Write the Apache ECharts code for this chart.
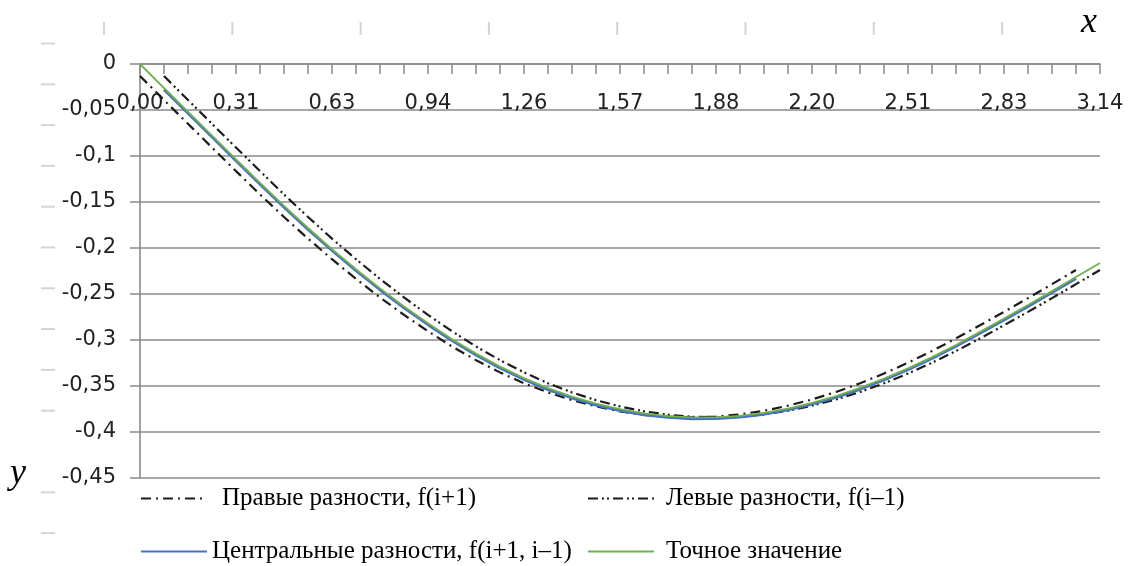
<!DOCTYPE html>
<html>
<head>
<meta charset="utf-8">
<title>Численное дифференцирование</title>
<script src="https://cdn.jsdelivr.net/npm/echarts@6/dist/echarts.min.js"></script>
<style>
  html, body { margin: 0; padding: 0; background: #ffffff; }
  #chart { width: 1131px; height: 566px; }
</style>
</head>
<body>
<div id="chart"></div>
<script>
// Grid nodes x_i = i*pi/40, i = 0..40 (labels shown with a decimal comma)
const xLabels = [
  "0,00","0,08","0,16","0,24","0,31","0,39","0,47","0,55","0,63","0,71",
  "0,79","0,86","0,94","1,02","1,10","1,18","1,26","1,34","1,41","1,49",
  "1,57","1,65","1,73","1,81","1,88","1,96","2,04","2,12","2,20","2,28",
  "2,36","2,43","2,51","2,59","2,67","2,75","2,83","2,91","2,98","3,06","3,14"
];

// Exact derivative at every node, i = 0..40
const exactValues = [
  0, -0.0261, -0.0521, -0.0779, -0.1036, -0.1292, -0.1543, -0.1783, -0.2012, -0.2231,
  -0.2439, -0.2635, -0.2819, -0.2991, -0.3148, -0.3289, -0.3415, -0.3524, -0.3616, -0.3692,
  -0.3752, -0.3798, -0.3827, -0.3842, -0.3840, -0.3824, -0.3792, -0.3745, -0.3683, -0.3609,
  -0.3521, -0.3420, -0.3308, -0.3186, -0.3054, -0.2912, -0.2768, -0.2620, -0.2469, -0.2316,
  -0.2162
];

// Forward differences f(i+1), nodes i = 0..39
const rightDiff = [
  -0.0131, -0.0391, -0.0650, -0.0908, -0.1164, -0.1418, -0.1663, -0.1898, -0.2122, -0.2335,
  -0.2537, -0.2727, -0.2905, -0.3070, -0.3219, -0.3352, -0.3470, -0.3570, -0.3654, -0.3722,
  -0.3775, -0.3813, -0.3835, -0.3841, -0.3832, -0.3808, -0.3769, -0.3714, -0.3646, -0.3565,
  -0.3471, -0.3364, -0.3247, -0.3120, -0.2983, -0.2840, -0.2694, -0.2545, -0.2393, -0.2239
];

// Backward differences f(i-1), nodes i = 1..40
const leftDiff = [
  -0.0131, -0.0391, -0.0650, -0.0908, -0.1164, -0.1418, -0.1663, -0.1898, -0.2122, -0.2335,
  -0.2537, -0.2727, -0.2905, -0.3070, -0.3219, -0.3352, -0.3470, -0.3570, -0.3654, -0.3722,
  -0.3775, -0.3813, -0.3835, -0.3841, -0.3832, -0.3808, -0.3769, -0.3714, -0.3646, -0.3565,
  -0.3471, -0.3364, -0.3247, -0.3120, -0.2983, -0.2840, -0.2694, -0.2545, -0.2393, -0.2239
];

// Central differences f(i+1, i-1), nodes i = 1..39
const centralDiff = [
  -0.0276, -0.0536, -0.0794, -0.1051, -0.1307, -0.1558, -0.1798, -0.2027, -0.2246, -0.2454,
  -0.2650, -0.2834, -0.3006, -0.3163, -0.3304, -0.3430, -0.3539, -0.3631, -0.3707, -0.3767,
  -0.3813, -0.3842, -0.3857, -0.3855, -0.3839, -0.3807, -0.3760, -0.3698, -0.3624, -0.3536,
  -0.3435, -0.3323, -0.3201, -0.3069, -0.2927, -0.2783, -0.2635, -0.2484, -0.2331
];

const seriesNames = [
  "Правые разности, f(i+1)",
  "Левые разности, f(i–1)",
  "Центральные разности, f(i+1, i–1)",
  "Точное значение"
];

const AXIS_GREY = "#8a8a8a";
const LABEL_FONT = "DejaVu Sans";
const SERIF = "Liberation Serif";

// Faint decorative tick strips along the top and left edges
const fadedMarks = [];
for (let k = 0; k < 8; k++) {
  const x = 104 + 128.3 * k;
  fadedMarks.push({ type: "line", silent: true,
    shape: { x1: x, y1: 22, x2: x, y2: 35 },
    style: { stroke: "#d4d4d4", lineWidth: 2 } });
}
for (let k = 0; k < 13; k++) {
  if (k === 10) continue;
  const y = 43.5 + 40.8 * k;
  fadedMarks.push({ type: "line", silent: true,
    shape: { x1: 41, y1: y, x2: 55, y2: y },
    style: { stroke: "#d4d4d4", lineWidth: 2 } });
}

function legendAt(name, left, top, textPad) {
  return {
    data: [name],
    left: left,
    top: top,
    orient: "horizontal",
    padding: 0,
    itemWidth: 66,
    itemHeight: 14,
    selectedMode: false,
    itemStyle: { opacity: 0 },
    textStyle: { fontFamily: SERIF, fontSize: 25, color: "#000", padding: [0, 0, 0, textPad] }
  };
}

const chart = echarts.init(document.getElementById("chart"), null, { renderer: "canvas" });

chart.setOption({
  animation: false,
  backgroundColor: "#ffffff",
  grid: { left: 140, right: 31, top: 64, bottom: 88, containLabel: false },
  xAxis: {
    type: "category",
    data: xLabels,
    position: "top",
    boundaryGap: false,
    axisLine: { show: true, onZero: false, lineStyle: { color: AXIS_GREY, width: 1.6 } },
    axisTick: { show: true, inside: true, interval: 0, length: 10, lineStyle: { color: AXIS_GREY, width: 1.5 } },
    axisLabel: {
      inside: true, interval: 3, margin: 29,
      fontFamily: LABEL_FONT, fontSize: 21, color: "#222"
    },
    splitLine: { show: false }
  },
  yAxis: {
    type: "value",
    min: -0.45,
    max: 0,
    interval: 0.05,
    axisLine: { show: true, lineStyle: { color: AXIS_GREY, width: 1.6 } },
    axisTick: { show: true, length: 10, lineStyle: { color: AXIS_GREY, width: 1.5 } },
    axisLabel: {
      margin: 24,
      fontFamily: LABEL_FONT, fontSize: 21, color: "#222",
      formatter: function (v) {
        const r = parseFloat(v.toFixed(2));
        return r === 0 ? "0" : String(r).replace(".", ",");
      }
    },
    splitLine: { show: true, lineStyle: { color: AXIS_GREY, width: 1.6 } }
  },
  legend: [
    legendAt(seriesNames[0], 140, 486, 10),
    legendAt(seriesNames[1], 587, 486, 7),
    legendAt(seriesNames[2], 140, 539, 0),
    legendAt(seriesNames[3], 587, 539, 7)
  ],
  series: [
    {
      name: seriesNames[0], type: "line", symbol: "none", showSymbol: false,
      data: rightDiff.concat([null]),
      lineStyle: { color: "#1c1c1c", width: 2.2, type: [10, 5, 2, 5] },
      itemStyle: { color: "#1c1c1c" }, z: 2
    },
    {
      name: seriesNames[1], type: "line", symbol: "none", showSymbol: false,
      data: [null].concat(leftDiff),
      lineStyle: { color: "#1c1c1c", width: 2.2, type: [10, 4, 2, 3, 2, 4] },
      itemStyle: { color: "#1c1c1c" }, z: 2
    },
    {
      name: seriesNames[2], type: "line", symbol: "none", showSymbol: false,
      data: [null].concat(centralDiff, [null]),
      lineStyle: { color: "#4472C4", width: 2.8 },
      itemStyle: { color: "#4472C4" }, z: 3
    },
    {
      name: seriesNames[3], type: "line", symbol: "none", showSymbol: false,
      data: exactValues,
      lineStyle: { color: "#72B04A", width: 1.8 },
      itemStyle: { color: "#72B04A" }, z: 4
    }
  ],
  graphic: fadedMarks.concat([
    { type: "text", silent: true, left: 1081, top: 5,
      style: { text: "x", font: "italic 36px 'Liberation Serif'", fill: "#000" } },
    { type: "text", silent: true, left: 10, top: 456,
      style: { text: "y", font: "italic 36px 'Liberation Serif'", fill: "#000" } }
  ])
});
</script>
</body>
</html>
